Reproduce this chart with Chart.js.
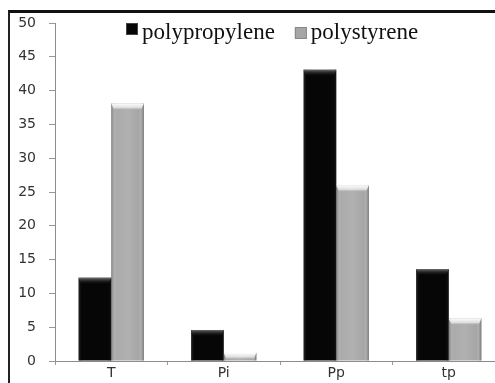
<!DOCTYPE html>
<html>
<head>
<meta charset="utf-8">
<script src="https://cdn.jsdelivr.net/npm/chart.js@4/dist/chart.umd.min.js"></script>
<style>
  html, body { margin: 0; padding: 0; background: #fff; overflow: hidden; }
  #wrap { position: relative; width: 505px; height: 383px; }
  #bars { position: absolute; left: 0; top: 0; }
  #frame { position: absolute; left: 8px; top: 10px; right: 0; bottom: 0;
           border-top: 3px solid #111; border-left: 2px solid #222; pointer-events: none; }
</style>
</head>
<body>
<div id="wrap"><canvas id="bars" width="505" height="383"></canvas><div id="frame"></div></div>
<script>
  var categories = ['T', 'Pi', 'Pp', 'tp'];
  var polypropylene = [12.3, 4.6, 43.1, 13.6];
  var polystyrene = [38.1, 1.2, 26.0, 6.3];
  var yTicks = [0, 5, 10, 15, 20, 25, 30, 35, 40, 45, 50];

  var seriesColors = ['#060606', '#a6a6a6'];

  // bevel / shading over every bar
  var bevelPlugin = {
    id: 'bevel',
    afterDatasetsDraw: function(chart) {
      var c = chart.ctx;
      chart.data.datasets.forEach(function(ds, i) {
        chart.getDatasetMeta(i).data.forEach(function(bar) {
          var left = bar.x - bar.width / 2, right = bar.x + bar.width / 2;
          var top = bar.y, h = bar.base - bar.y;
          if (h <= 0) return;
          c.save();
          var side = c.createLinearGradient(left, 0, right, 0);
          if (i === 0) {
            side.addColorStop(0, 'rgba(70,70,70,0.6)');
            side.addColorStop(0.12, 'rgba(0,0,0,0)');
            side.addColorStop(0.88, 'rgba(0,0,0,0)');
            side.addColorStop(1, 'rgba(40,40,40,0.5)');
          } else {
            side.addColorStop(0, 'rgba(90,90,90,0.55)');
            side.addColorStop(0.15, 'rgba(255,255,255,0.05)');
            side.addColorStop(0.5, 'rgba(255,255,255,0.12)');
            side.addColorStop(0.85, 'rgba(255,255,255,0.0)');
            side.addColorStop(1, 'rgba(80,80,80,0.6)');
          }
          c.fillStyle = side;
          c.fillRect(left, top, right - left, h);
          var capH = Math.min(7, h);
          var cap = c.createLinearGradient(0, top, 0, top + capH);
          if (i === 0) {
            cap.addColorStop(0, 'rgba(120,120,120,0.9)');
            cap.addColorStop(1, 'rgba(0,0,0,0)');
          } else {
            cap.addColorStop(0, 'rgba(255,255,255,1)');
            cap.addColorStop(0.6, 'rgba(235,235,235,0.8)');
            cap.addColorStop(1, 'rgba(166,166,166,0)');
          }
          c.fillStyle = cap;
          c.beginPath();
          c.moveTo(left, top);
          c.lineTo(right, top);
          c.lineTo(right - 3, top + capH);
          c.lineTo(left + 3, top + capH);
          c.closePath();
          c.fill();
          c.restore();
        });
      });
    }
  };

  // legend drawn inside the plot, serif like the original
  var legendPlugin = {
    id: 'inLegend',
    afterDraw: function(chart) {
      var c = chart.ctx;
      var x = chart.chartArea.left + 71;
      c.save();
      c.font = '23px "Liberation Serif", serif';
      c.textBaseline = 'alphabetic';
      chart.data.datasets.forEach(function(ds, i) {
        var boxTop = i === 0 ? 23 : 27;
        c.fillStyle = seriesColors[i];
        c.fillRect(x, boxTop, 12, 12);
        c.strokeStyle = i === 0 ? '#444' : '#888';
        c.lineWidth = 1;
        c.strokeRect(x + 0.5, boxTop + 0.5, 11, 11);
        c.fillStyle = '#111';
        c.fillText(ds.label, x + 16, 39);
        x += 16 + c.measureText(ds.label).width + 20;
      });
      c.restore();
    }
  };

  var ctx = document.getElementById('bars').getContext('2d');

  new Chart(ctx, {
    type: 'bar',
    data: {
      labels: categories,
      datasets: [
        { label: 'polypropylene', data: polypropylene, backgroundColor: seriesColors[0] },
        { label: 'polystyrene', data: polystyrene, backgroundColor: seriesColors[1] }
      ]
    },
    options: {
      responsive: false,
      animation: false,
      devicePixelRatio: 1,
      layout: { padding: { left: 9, top: 23, right: 0, bottom: 0 } },
      datasets: { bar: { categoryPercentage: 0.58, barPercentage: 1.0 } },
      plugins: { legend: { display: false }, tooltip: { enabled: false } },
      scales: {
        x: {
          grid: { display: true, drawOnChartArea: false, tickLength: 4, color: '#999', offset: true },
          border: { color: '#8c8c8c', width: 1 },
          ticks: { color: '#333', font: { family: 'DejaVu Sans', size: 14 }, padding: 0 },
          afterFit: function(scale) { scale.height = 22; }
        },
        y: {
          min: 0,
          max: 50,
          afterBuildTicks: function(scale) {
            scale.ticks = yTicks.map(function(v) { return { value: v }; });
          },
          grid: { display: true, drawOnChartArea: false, tickLength: 6, color: '#999' },
          border: { color: '#8c8c8c', width: 1 },
          ticks: { color: '#333', font: { family: 'DejaVu Sans', size: 14 }, padding: 13 },
          afterFit: function(scale) { scale.width = 46; }
        }
      }
    },
    plugins: [bevelPlugin, legendPlugin]
  });
</script>
</body>
</html>
